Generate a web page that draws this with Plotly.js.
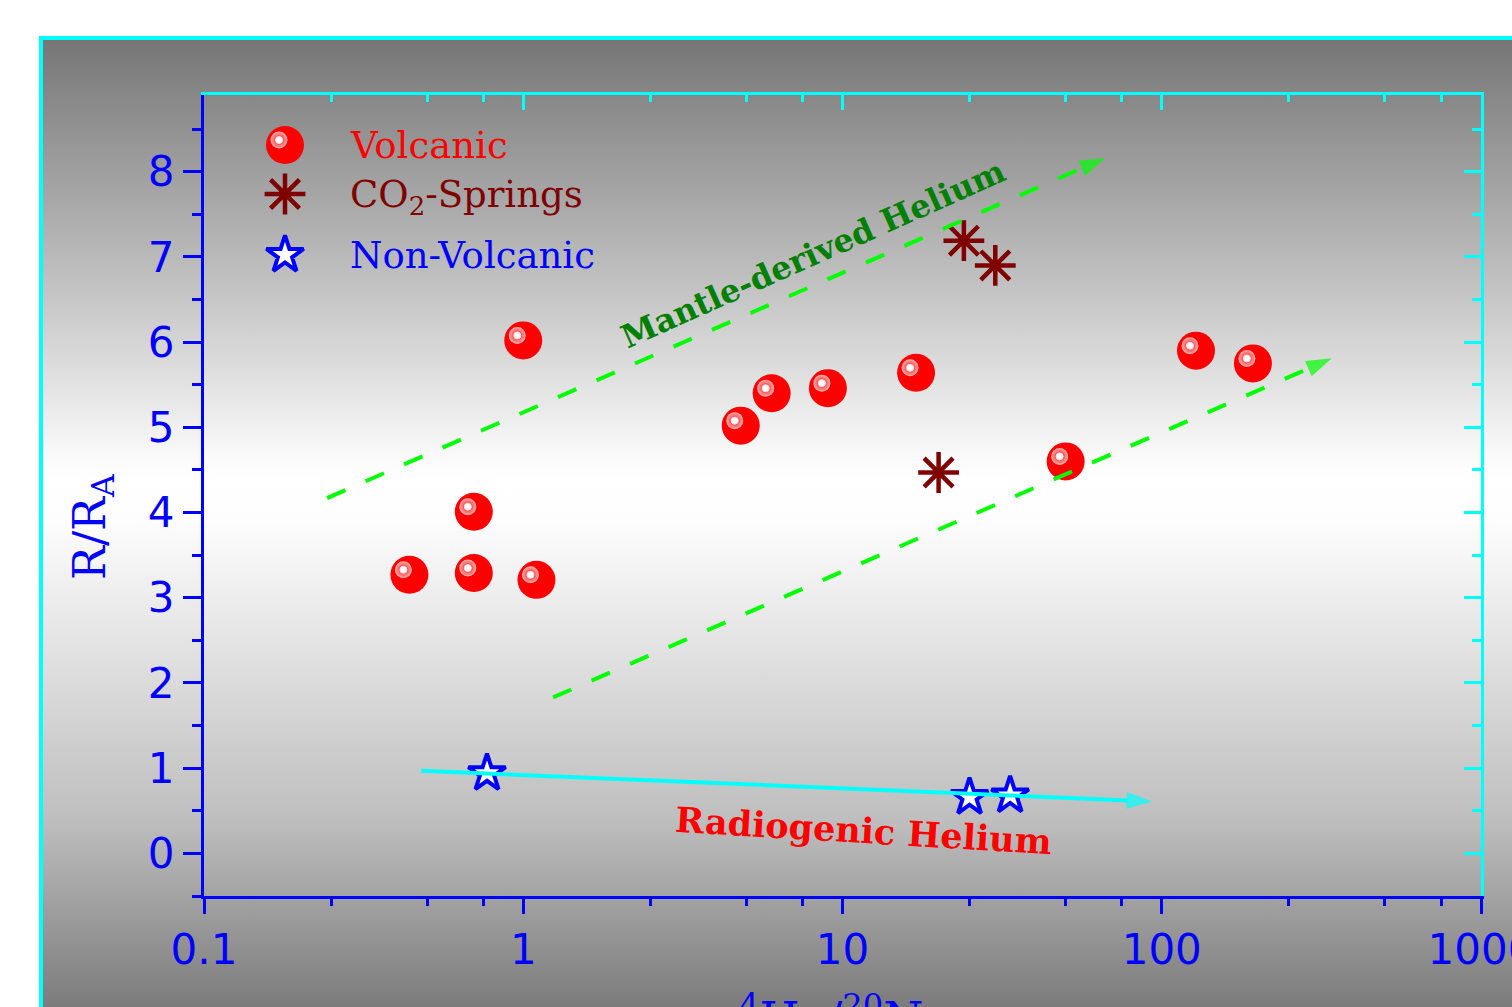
<!DOCTYPE html>
<html>
<head>
<meta charset="utf-8">
<script src="https://cdn.plot.ly/plotly-3.0.1.min.js"></script>
<style>
html,body{margin:0;padding:0;background:#ffffff;width:1512px;height:1007px;overflow:hidden;}
#bg{position:absolute;left:39px;top:36px;width:1480px;height:980px;border-left:4px solid #00ffff;border-top:4px solid #00ffff;
background:linear-gradient(to bottom,#767676 0px,#c4c4c4 252px,#fbfbfb 420px,#ffffff 445px,#fdfdfd 480px,#bebebe 780px,#7b7b7b 968px);}
#chart{position:absolute;left:0;top:0;width:1512px;height:1007px;}
</style>
</head>
<body>
<div id="bg"></div>
<div id="chart"></div>
<script>
// ---------------- data ----------------
const volcanicX = [1.0, 0.44, 0.70, 0.70, 1.10, 4.8, 6.0, 9.0, 17.0, 50.0, 128.0, 193.0];
const volcanicY = [6.02, 3.27, 3.29, 4.01, 3.21, 5.02, 5.40, 5.46, 5.64, 4.60, 5.90, 5.75];
const co2X = [24.0, 30.1, 20.0];
const co2Y = [7.19, 6.90, 4.47];
const nonVolcanicX = [0.77, 25.0, 33.5];
const nonVolcanicY = [0.94, 0.66, 0.68];

// trend arrows (start, end)
const mantleArrowX = [0.243, 66.5];
const mantleArrowY = [4.17, 8.16];
const mixArrowX = [1.24, 341];
const mixArrowY = [1.83, 5.81];
const radioArrowX = [0.479, 93.4];
const radioArrowY = [0.97, 0.61];

// ticks
const xTickVals = [0.1, 1, 10, 100, 1000];
const xTickText = ['0.1', '1', '10', '100', '1000'];
const xMinorVals = [0.25, 0.5, 0.75, 2.5, 5, 7.5, 25, 50, 75, 250, 500, 750];
const yTickVals = [0, 1, 2, 3, 4, 5, 6, 7, 8];
const yTickText = ['0', '1', '2', '3', '4', '5', '6', '7', '8'];
const yMinorVals = [-0.5, 0.5, 1.5, 2.5, 3.5, 4.5, 5.5, 6.5, 7.5, 8.5];

// labels
const seriesNames = ['Volcanic', 'CO<sub>2</sub>-Springs', 'Non-Volcanic'];
const seriesColors = ['#ff0000', '#800000', '#0000ff'];
const xTitle = '<sup>4</sup>He/<sup>20</sup>Ne';
const yTitle = 'R/R<sub>A</sub>';
const mantleLabel = 'Mantle-derived Helium';
const radioLabel = 'Radiogenic Helium';

// ---------------- layout constants ----------------
const W = 1512, H = 1007;
const M = {l: 204, r: 31, t: 95, b: 111};
const PW = W - M.l - M.r, PH = H - M.t - M.b;
const X_RANGE = [-1, 3];
const Y_RANGE = [-0.5, 8.9];
const HL_DX = 6, HL_DY = 5; // highlight offset (px, left/up)
const dxLog = HL_DX * (X_RANGE[1] - X_RANGE[0]) / PW;
const dyLin = HL_DY * (Y_RANGE[1] - Y_RANGE[0]) / PH;
const px2fx = px => (px - M.l) / PW;
const px2fy = py => (H - M.b - py) / PH;

const LEG_SYM_X = px2fx(285);
const LEG_TXT_X = px2fx(348);
const LEG_ROWS = [px2fy(145), px2fy(194), px2fy(255)];
const LEG_TXT_ROWS = [px2fy(145), px2fy(197), px2fy(255)];

const SERIF = 'DejaVu Serif';
const SANS = 'DejaVu Sans';
const BLUE = '#0000ff', CYAN = '#00ffff', GREEN = '#00ff00';

const ballMarker = {symbol: 'circle', size: 38, color: '#ff0000', line: {width: 0}};
const hlRing = {symbol: 'circle', size: 17, color: '#ffb4b4', line: {width: 0},
                gradient: {type: 'radial', color: 'rgba(255,90,90,0.35)'}};
const hlCore = {symbol: 'circle', size: 7, color: '#ffffff', line: {color: '#ffe0e0', width: 1}};
const astMarker = {symbol: 'asterisk-open', size: 34, color: '#800000', line: {color: '#800000', width: 4.5}};
const starMarker = {symbol: 'star', size: 28, color: '#ffffff', line: {color: BLUE, width: 4}};

function arrowTrace(xs, ys, color, dash) {
  return {x: xs, y: ys, type: 'scatter', mode: 'lines+markers', hoverinfo: 'skip',
    line: {color: color, width: 4, dash: dash},
    marker: {symbol: 'arrow', size: [0, 27], color: color, angleref: 'previous', line: {width: 0}},
    showlegend: false};
}
function pts(x, y, marker, xa, ya) {
  return {x: x, y: y, xaxis: xa || 'x', yaxis: ya || 'y', type: 'scatter', mode: 'markers',
    marker: marker, hoverinfo: 'skip', showlegend: false};
}

const traces = [
  pts(volcanicX, volcanicY, ballMarker),
  pts(co2X, co2Y, astMarker),
  pts(nonVolcanicX, nonVolcanicY, starMarker),
  arrowTrace(mantleArrowX, mantleArrowY, GREEN, '20px,22px'),
  arrowTrace(mixArrowX, mixArrowY, GREEN, '20px,22px'),
  arrowTrace(radioArrowX, radioArrowY, CYAN, 'solid'),
  // highlights on balls (shifted overlay axes)
  pts(volcanicX, volcanicY, hlRing, 'x3', 'y3'),
  pts(volcanicX, volcanicY, hlCore, 'x3', 'y3'),
  // legend symbols
  pts([LEG_SYM_X], [LEG_ROWS[0]], ballMarker, 'x4', 'y4'),
  pts([LEG_SYM_X], [LEG_ROWS[1]], astMarker, 'x4', 'y4'),
  pts([LEG_SYM_X], [LEG_ROWS[2]], starMarker, 'x4', 'y4'),
  pts([LEG_SYM_X], [LEG_ROWS[0]], hlRing, 'x5', 'y5'),
  pts([LEG_SYM_X], [LEG_ROWS[0]], hlCore, 'x5', 'y5'),
  // dummy to materialise mirror axes
  pts([1], [0], {opacity: 0}, 'x2', 'y2')
];

const tickFont = {family: SANS, size: 42, color: BLUE};
const hidden = {visible: false, fixedrange: true, showgrid: false, zeroline: false};

const layout = {
  width: W, height: H,
  margin: M,
  paper_bgcolor: 'rgba(0,0,0,0)',
  plot_bgcolor: 'rgba(0,0,0,0)',
  showlegend: false,
  hovermode: false,
  xaxis: {type: 'log', range: X_RANGE, showline: true, linecolor: BLUE, linewidth: 3,
    ticks: 'outside', ticklen: 15, tickwidth: 3, tickcolor: BLUE,
    tickmode: 'array', tickvals: xTickVals, ticktext: xTickText, tickfont: tickFont,
    ticklabeloverflow: 'allow',
    minor: {tickmode: 'array', tickvals: xMinorVals, ticks: 'outside', ticklen: 7, tickwidth: 3, tickcolor: BLUE, showgrid: false},
    showgrid: false, zeroline: false, automargin: false, fixedrange: true},
  yaxis: {range: Y_RANGE, showline: true, linecolor: BLUE, linewidth: 3,
    ticks: 'outside', ticklen: 18, tickwidth: 3, tickcolor: BLUE,
    tickmode: 'array', tickvals: yTickVals, ticktext: yTickText, tickfont: tickFont,
    minor: {tickmode: 'array', tickvals: yMinorVals, ticks: 'outside', ticklen: 9, tickwidth: 3, tickcolor: BLUE, showgrid: false},
    showgrid: false, zeroline: false, automargin: false, fixedrange: true},
  xaxis2: {type: 'log', range: X_RANGE, overlaying: 'x', side: 'top', anchor: 'y', showline: true, linecolor: CYAN, linewidth: 3,
    ticks: 'inside', ticklen: 15, tickwidth: 3, tickcolor: CYAN, tickmode: 'array', tickvals: xTickVals, showticklabels: false,
    minor: {tickmode: 'array', tickvals: xMinorVals, ticks: 'inside', ticklen: 7, tickwidth: 3, tickcolor: CYAN, showgrid: false},
    showgrid: false, zeroline: false, fixedrange: true},
  yaxis2: {range: Y_RANGE, overlaying: 'y', side: 'right', anchor: 'x', showline: true, linecolor: CYAN, linewidth: 3,
    ticks: 'inside', ticklen: 17, tickwidth: 3, tickcolor: CYAN, tickmode: 'array', tickvals: yTickVals, showticklabels: false,
    minor: {tickmode: 'array', tickvals: yMinorVals, ticks: 'inside', ticklen: 9, tickwidth: 3, tickcolor: CYAN, showgrid: false},
    showgrid: false, zeroline: false, fixedrange: true},
  xaxis3: Object.assign({type: 'log', overlaying: 'x', anchor: 'y3', range: [X_RANGE[0] + dxLog, X_RANGE[1] + dxLog]}, hidden),
  yaxis3: Object.assign({overlaying: 'y', anchor: 'x3', range: [Y_RANGE[0] - dyLin, Y_RANGE[1] - dyLin]}, hidden),
  xaxis4: Object.assign({overlaying: 'x', anchor: 'y4', range: [0, 1]}, hidden),
  yaxis4: Object.assign({overlaying: 'y', anchor: 'x4', range: [0, 1]}, hidden),
  xaxis5: Object.assign({overlaying: 'x', anchor: 'y5', range: [HL_DX / PW, 1 + HL_DX / PW]}, hidden),
  yaxis5: Object.assign({overlaying: 'y', anchor: 'x5', range: [-HL_DY / PH, 1 - HL_DY / PH]}, hidden),
  annotations: [
    {text: seriesNames[0], xref: 'paper', yref: 'paper', x: LEG_TXT_X, y: LEG_TXT_ROWS[0], xanchor: 'left', yanchor: 'middle', showarrow: false, font: {family: SERIF, size: 37, color: seriesColors[0]}},
    {text: seriesNames[1], xref: 'paper', yref: 'paper', x: LEG_TXT_X, y: LEG_TXT_ROWS[1], xanchor: 'left', yanchor: 'middle', showarrow: false, font: {family: SERIF, size: 37, color: seriesColors[1]}},
    {text: seriesNames[2], xref: 'paper', yref: 'paper', x: LEG_TXT_X, y: LEG_TXT_ROWS[2], xanchor: 'left', yanchor: 'middle', showarrow: false, font: {family: SERIF, size: 37, color: seriesColors[2]}},
    {text: '<b>' + mantleLabel + '</b>', xref: 'paper', yref: 'paper', x: px2fx(813), y: px2fy(254), xanchor: 'center', yanchor: 'middle', textangle: -24, showarrow: false, font: {family: SERIF, size: 32, color: '#008000'}},
    {text: '<b>' + radioLabel + '</b>', xref: 'paper', yref: 'paper', x: px2fx(863), y: px2fy(830), xanchor: 'center', yanchor: 'middle', textangle: 3.4, showarrow: false, font: {family: SERIF, size: 35, color: '#ff0000'}},
    {text: yTitle, xref: 'paper', yref: 'paper', x: px2fx(92), y: px2fy(527), xanchor: 'center', yanchor: 'middle', textangle: -90, showarrow: false, font: {family: SERIF, size: 45, color: BLUE}},
    {text: xTitle, xref: 'paper', yref: 'paper', x: px2fx(845), y: px2fy(984), xanchor: 'center', yanchor: 'top', showarrow: false, font: {family: SERIF, size: 46, color: BLUE}}
  ]
};

Plotly.newPlot('chart', traces, layout, {displayModeBar: false, staticPlot: true});
</script>
</body>
</html>
